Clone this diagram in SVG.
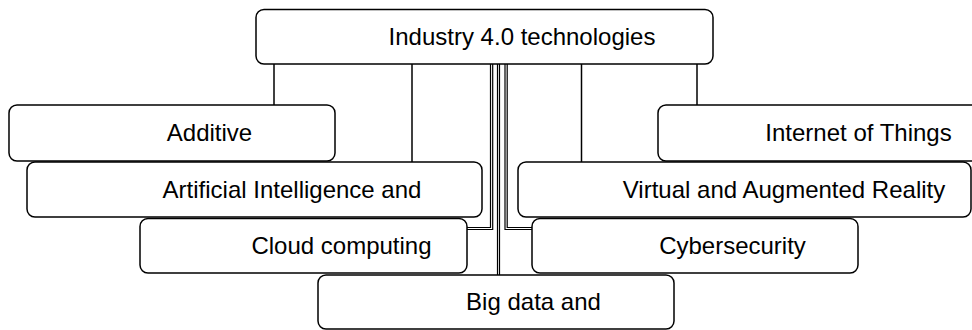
<svg xmlns="http://www.w3.org/2000/svg" width="972" height="330" viewBox="0 0 972 330">
<style>
.box{fill:#fff;stroke:#000;stroke-width:1.5}
.lbl{font-family:"Liberation Sans",Arial,sans-serif;font-size:24px;fill:#000;text-anchor:middle}
.c{fill:none;stroke:#000;stroke-width:1.5}
.d{fill:none;stroke:#000;stroke-width:1.2}
</style>
<rect width="972" height="330" fill="#fff"/>
<g id="connectors">
<path class="c" d="M274,64 V105"/>
<path class="c" d="M412,64 V162"/>
<path class="c" d="M581.5,64 V162"/>
<path class="c" d="M697,64 V105"/>
<path class="d" d="M490.5,64 V227.5 H467"/>
<path class="d" d="M492.7,64 V229.5 H467"/>
<path class="d" d="M497.5,64 V275"/>
<path class="d" d="M499.5,64 V275"/>
<path class="d" d="M505,64 V229.5 H532"/>
<path class="d" d="M507.2,64 V227.5 H532"/>
</g>
<g id="n-industry"><rect class="box" x="256" y="9.5" width="457" height="54.5" rx="8"/><text class="lbl" x="522" y="44.5">Industry 4.0 technologies</text></g>
<g id="n-additive"><rect class="box" x="9" y="105" width="326" height="56" rx="8"/><text class="lbl" x="209.5" y="141">Additive</text></g>
<g id="n-iot"><rect class="box" x="658" y="105" width="326" height="56" rx="8"/><text class="lbl" x="858.5" y="141">Internet of Things</text></g>
<g id="n-ai"><rect class="box" x="27" y="162" width="455" height="55" rx="8"/><text class="lbl" x="292" y="197.5">Artificial Intelligence and</text></g>
<g id="n-vr"><rect class="box" x="518" y="162" width="453" height="55" rx="8"/><text class="lbl" x="784" y="197.5">Virtual and Augmented Reality</text></g>
<g id="n-cloud"><rect class="box" x="140" y="218.5" width="327" height="54.5" rx="8"/><text class="lbl" x="341.5" y="254">Cloud computing</text></g>
<g id="n-cyber"><rect class="box" x="532" y="218.5" width="326" height="54.5" rx="8"/><text class="lbl" x="732.5" y="254">Cybersecurity</text></g>
<g id="n-bigdata"><rect class="box" x="318" y="275" width="356" height="54" rx="8"/><text class="lbl" x="533.5" y="310">Big data and</text></g>
</svg>
